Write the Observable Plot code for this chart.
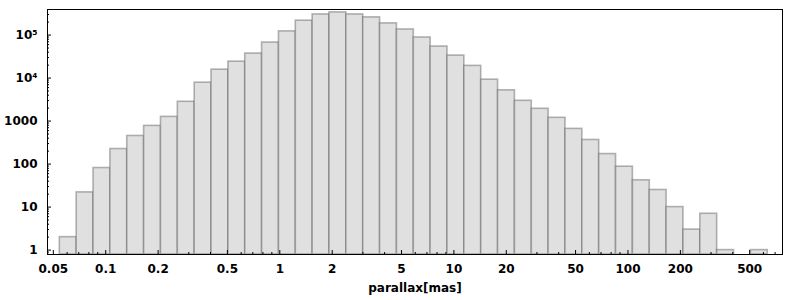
<!DOCTYPE html>
<html>
<head>
<meta charset="utf-8">
<script src="https://cdn.jsdelivr.net/npm/d3@7"></script>
<script src="https://cdn.jsdelivr.net/npm/@observablehq/plot@0.6"></script>
<style>
  html, body { margin: 0; padding: 0; background: #fff; }
</style>
</head>
<body>
<div id="chart"></div>
<script>
// Histogram of parallax: 42 log-spaced bins between binLo and binHi (mas)
const binLo = 0.0545;
const binHi = 635;
const counts = [2, 22, 81, 224, 451, 773, 1253, 2810, 7820, 15700, 24100, 37200, 67100,
  122000, 216000, 302000, 337000, 302000, 258000, 187000, 135000, 87900, 54100, 33400,
  19200, 9190, 5190, 2960, 1930, 1190, 658, 364, 171, 87, 42, 25, 10, 3, 7, 1, 0, 1];

const xTickValues = [0.05, 0.1, 0.2, 0.5, 1, 2, 5, 10, 20, 50, 100, 200, 500];
const xTickLabels = ["0.05", "0.1", "0.2", "0.5", "1", "2", "5", "10", "20", "50", "100", "200", "500"];
const yTickValues = [1, 10, 100, 1000, 1e4, 1e5];
const yTickLabels = ["1", "10", "100", "1000", "10⁴", "10⁵"];
const xLabel = "parallax[mas]";

const xDomain = [0.0463, 772];
const yDomain = [0.79, 393000];

const nBins = counts.length;
const edges = d3.range(nBins + 1).map(i => binLo * Math.pow(binHi / binLo, i / nBins));
const bins = counts.map((c, i) => ({x1: edges[i], x2: edges[i + 1], count: c})).filter(d => d.count > 0);

function minorTicks(domain, skip) {
  const out = [];
  for (let e = -3; e <= 6; e++) {
    for (let m = 1; m <= 9; m++) {
      const v = +(m * Math.pow(10, e)).toPrecision(6);
      if (v >= domain[0] && v <= domain[1] && !skip.some(s => Math.abs(s - v) / v < 1e-6)) out.push(v);
    }
  }
  return out;
}
const xMinor = minorTicks(xDomain, xTickValues);
const yMinor = minorTicks(yDomain, yTickValues);

const chart = Plot.plot({
  width: 800,
  height: 300,
  marginLeft: 47,
  marginRight: 18,
  marginTop: 9,
  marginBottom: 46,
  style: {fontFamily: "'DejaVu Sans', sans-serif", fontSize: "12px", fontWeight: "bold", background: "#fff", color: "#000"},
  x: {type: "log", domain: xDomain, axis: null},
  y: {type: "log", domain: yDomain, axis: null},
  marks: [
    Plot.rectY(bins, {
      x1: "x1", x2: "x2", y1: yDomain[0], y2: "count",
      fill: "#e0e0e0", stroke: "#5a5a5a", strokeOpacity: 0.45, strokeWidth: 1.6
    }),
    Plot.frame({stroke: "#000", strokeWidth: 1}),
    Plot.axisX({ticks: xTickValues, tickSize: -4, tickFormat: () => "", stroke: "#000", label: null}),
    Plot.axisX({ticks: xMinor, tickSize: -2, tickFormat: () => "", stroke: "#000", label: null}),
    Plot.axisY({ticks: yTickValues, tickSize: -4, tickFormat: () => "", stroke: "#000", label: null}),
    Plot.axisY({ticks: yMinor, tickSize: -2, tickFormat: () => "", stroke: "#000", label: null}),
    Plot.text(xTickValues, {x: d => d, text: (d, i) => xTickLabels[i], frameAnchor: "bottom", dy: 9.5, lineAnchor: "top", fill: "#000", fontSize: 12, fontWeight: "bold"}),
    Plot.text(yTickValues, {y: d => d, text: (d, i) => yTickLabels[i], frameAnchor: "left", dx: -10, textAnchor: "end", lineAnchor: "middle", fill: "#000", fontSize: 12, fontWeight: "bold"}),
    Plot.text([xLabel], {text: d => d, frameAnchor: "bottom", dy: 34, lineAnchor: "middle", fill: "#000", fontSize: 12, fontWeight: "bold"})
  ]
});
document.getElementById("chart").appendChild(chart);
</script>
</body>
</html>
